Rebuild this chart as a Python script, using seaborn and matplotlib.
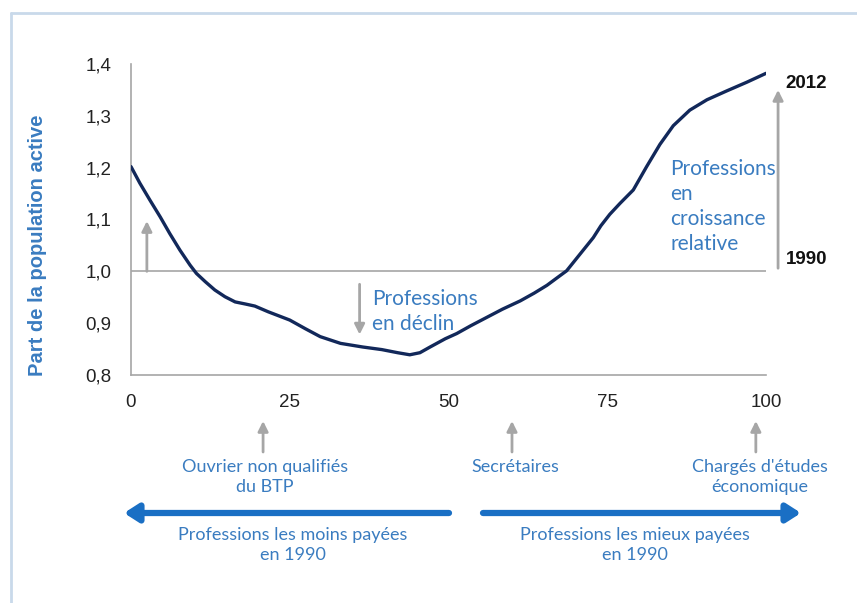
import matplotlib
matplotlib.use("Agg")
import matplotlib.pyplot as plt
import seaborn as sns
import pandas as pd
from matplotlib.ticker import FuncFormatter
from matplotlib.text import Annotation

# ---------------- data ----------------
rank = [0, 1.4, 3.0, 4.6, 6.1, 7.7, 9.3, 10.3, 11.7, 13.2, 14.8, 16.4, 18.0, 19.5,
        21.6, 25, 27.5, 29.8, 33, 36.5, 39.5, 42, 43.9, 45.5, 47.1, 49.5, 51.3, 53.5,
        56, 58.5, 61.3, 63.5, 65.5, 67.6, 68.6, 70.7, 72.8, 74.0, 75.4, 77.0, 79.1,
        81.2, 83.3, 85.4, 88.0, 90.7, 93.8, 97.0, 100]
ratio = [1.202, 1.170, 1.137, 1.105, 1.073, 1.041, 1.012, 0.996, 0.980, 0.964, 0.951,
         0.941, 0.937, 0.933, 0.922, 0.906, 0.889, 0.874, 0.861, 0.854, 0.849, 0.843,
         0.839, 0.843, 0.854, 0.870, 0.880, 0.895, 0.911, 0.927, 0.943, 0.958, 0.973,
         0.992, 1.001, 1.033, 1.065, 1.088, 1.110, 1.131, 1.157, 1.202, 1.245, 1.281,
         1.311, 1.331, 1.348, 1.365, 1.382]
x_ticks = [0, 25, 50, 75, 100]
y_ticks = [0.8, 0.9, 1.0, 1.1, 1.2, 1.3, 1.4]
reference_level = 1.0
y_label = "Part de la population active"
year_start = "1990"
year_end = "2012"
decline_label = "Professions\nen déclin"
growth_label = "Professions\nen\ncroissance\nrelative"
occupations = ["Ouvrier non qualifiés\ndu BTP", "Secrétaires", "Chargés d'études\néconomique"]
occupation_rank = [20.8, 60, 98.4]
low_paid_label = "Professions les moins payées\nen 1990"
high_paid_label = "Professions les mieux payées\nen 1990"

df = pd.DataFrame({"rank": rank, "ratio": ratio})

# ---------------- style ----------------
sns.set_theme(style="white")
plt.rcParams["font.family"] = ["Liberation Sans", "DejaVu Sans"]
LAB = ["Lato", "DejaVu Sans"]
NAVY = "#12285a"
BLUE_TXT = "#3a7cc0"
BLUE_ARR = "#1a6fc4"
GRAY = "#a6a6a6"

W, H = 857, 603
fig = plt.figure(figsize=(W / 100, H / 100), dpi=100)
fig.patch.set_facecolor("white")

def fx(px):
    return px / W

def fy(py):
    return 1 - py / H

# light frame at top/left
fig.add_artist(plt.Line2D([fx(11), fx(11)], [fy(13), 0], color="#c9d9ea", lw=2))
fig.add_artist(plt.Line2D([fx(11), 1], [fy(13), fy(13)], color="#c9d9ea", lw=2))

ax = fig.add_axes([fx(131), fy(375), fx(766) - fx(131), fy(64) - fy(375)])
ax.set_facecolor("white")

ax.axhline(reference_level, color=GRAY, lw=1.2, zorder=1)
sns.lineplot(data=df, x="rank", y="ratio", ax=ax, color=NAVY, lw=2.4, zorder=3)
for ln in ax.lines:
    ln.set_solid_joinstyle("round")
    ln.set_solid_capstyle("round")

ax.set_xlim(0, 100)
ax.set_ylim(0.8, 1.4)
ax.set_xticks(x_ticks)
ax.set_yticks(y_ticks)
ax.yaxis.set_major_formatter(FuncFormatter(lambda v, p: f"{v:.1f}".replace(".", ",")))
ax.set_xlabel("")
ax.set_ylabel("")
for s in ["top", "right"]:
    ax.spines[s].set_visible(False)
for s in ["left", "bottom"]:
    ax.spines[s].set_color(GRAY)
    ax.spines[s].set_linewidth(1.2)
ax.tick_params(axis="both", direction="in", length=5, width=1, color=GRAY,
               labelsize=13.5, labelcolor="#222222")
ax.tick_params(axis="y", pad=14)
ax.tick_params(axis="x", pad=14)

fig.text(fx(38), fy(245), y_label, rotation=90, ha="center", va="center",
         fontsize=14.5, fontweight="bold", color=BLUE_TXT)

gray_arrow = dict(arrowstyle="-|>,head_length=0.5,head_width=0.25", color=GRAY, lw=2,
                  shrinkA=0, shrinkB=0)

# arrows in the plot area
ax.annotate("", xy=(2.5, 1.097), xytext=(2.5, 1.0), arrowprops=gray_arrow)
ax.annotate("", xy=(36, 0.878), xytext=(36, 0.975), arrowprops=gray_arrow)
ax.annotate("", xy=(101.9, 1.35), xytext=(101.9, 1.006), arrowprops=gray_arrow,
            annotation_clip=False)

ax.text(38, 0.923, decline_label, ha="left", va="center", fontsize=15,
        color=BLUE_TXT, family=LAB, linespacing=1.3)
ax.text(84.9, 1.125, growth_label, ha="left", va="center", fontsize=15,
        color=BLUE_TXT, family=LAB, linespacing=1.3)
ax.text(103.1, 1.363, year_end, ha="left", va="center", fontsize=13.5,
        fontweight="bold", color="#111111", clip_on=False)
ax.text(103.1, 1.022, year_start, ha="left", va="center", fontsize=13.5,
        fontweight="bold", color="#111111", clip_on=False)

# occupations below the axis
tr = ("data", "figure fraction")
for r in occupation_rank:
    ax.annotate("", xy=(r, fy(421)), xytext=(r, fy(452)), xycoords=tr, textcoords=tr,
                arrowprops=gray_arrow, annotation_clip=False)
label_x = [265, 515, 760]
for px, lab in zip(label_x, occupations):
    fig.text(fx(px), fy(459), lab, ha="center", va="top", fontsize=13,
             color=BLUE_TXT, family=LAB, linespacing=1.3)

# blue direction arrows
blue_arrow = dict(arrowstyle="-|>,head_length=0.7,head_width=0.45", color=BLUE_ARR,
                  lw=4.5, shrinkA=0, shrinkB=0)
fig.add_artist(Annotation(
    "", xy=(fx(124), fy(513)), xytext=(fx(449), fy(513)), xycoords="figure fraction",
    textcoords="figure fraction", arrowprops=blue_arrow))
fig.add_artist(Annotation(
    "", xy=(fx(801), fy(513)), xytext=(fx(483), fy(513)), xycoords="figure fraction",
    textcoords="figure fraction", arrowprops=blue_arrow))

fig.text(fx(293), fy(527), low_paid_label, ha="center", va="top", fontsize=13,
         color=BLUE_TXT, family=LAB, linespacing=1.3)
fig.text(fx(635), fy(527), high_paid_label, ha="center", va="top", fontsize=13,
         color=BLUE_TXT, family=LAB, linespacing=1.3)

fig.savefig("out.png", dpi=100, facecolor="white")
